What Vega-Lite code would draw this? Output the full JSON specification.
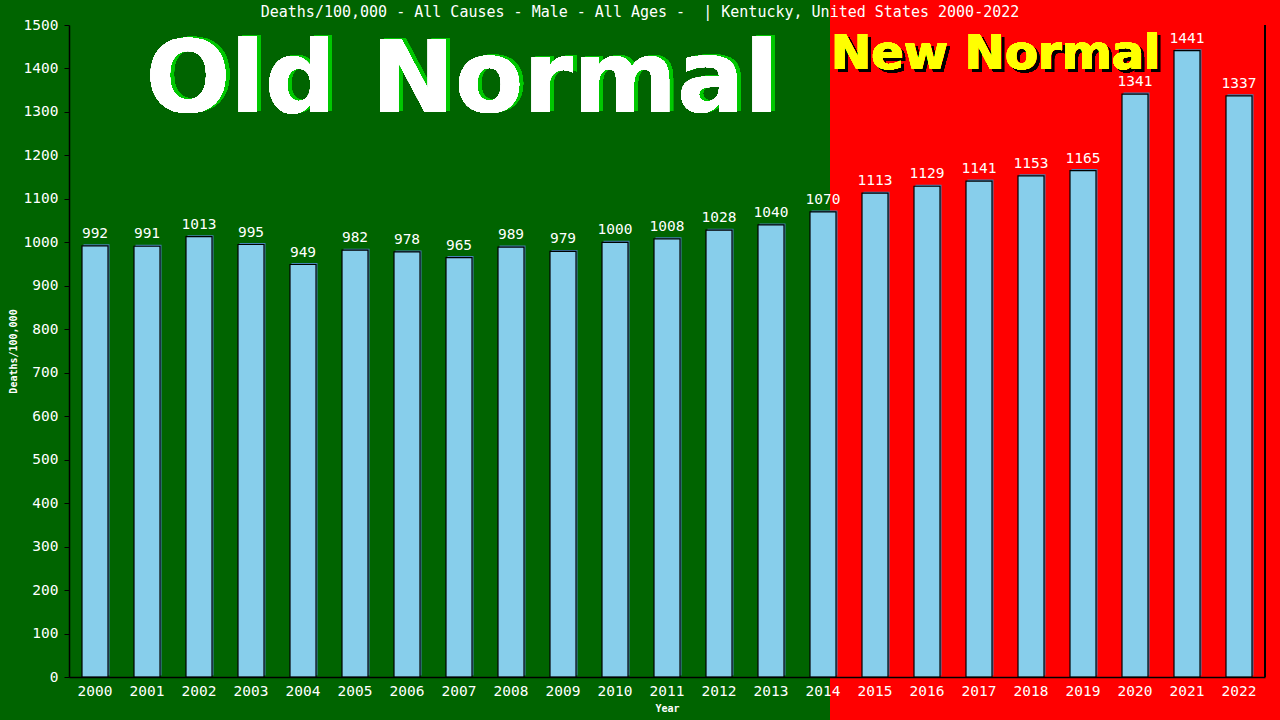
{
  "$schema": "https://vega.github.io/schema/vega-lite/v6.json",
  "width": 1196,
  "height": 652,
  "autosize": "none",
  "padding": {"left": 69, "top": 25, "right": 15, "bottom": 43},
  "background": "#006400",
  "config": {"view": {"stroke": null}},
  "title": {
    "text": "Deaths/100,000 - All Causes - Male - All Ages -\u00a0 | Kentucky, United States 2000-2022",
    "font": "DejaVu Sans Mono",
    "fontSize": 15,
    "fontWeight": "normal",
    "color": "white",
    "anchor": "middle",
    "baseline": "bottom",
    "dx": -27,
    "offset": -35
  },
  "data": {
    "values": [
      {"year": "2000", "rate": 992},
      {"year": "2001", "rate": 991},
      {"year": "2002", "rate": 1013},
      {"year": "2003", "rate": 995},
      {"year": "2004", "rate": 949},
      {"year": "2005", "rate": 982},
      {"year": "2006", "rate": 978},
      {"year": "2007", "rate": 965},
      {"year": "2008", "rate": 989},
      {"year": "2009", "rate": 979},
      {"year": "2010", "rate": 1000},
      {"year": "2011", "rate": 1008},
      {"year": "2012", "rate": 1028},
      {"year": "2013", "rate": 1040},
      {"year": "2014", "rate": 1070},
      {"year": "2015", "rate": 1113},
      {"year": "2016", "rate": 1129},
      {"year": "2017", "rate": 1141},
      {"year": "2018", "rate": 1153},
      {"year": "2019", "rate": 1165},
      {"year": "2020", "rate": 1341},
      {"year": "2021", "rate": 1441},
      {"year": "2022", "rate": 1337}
    ]
  },
  "encoding": {
    "x": {
      "field": "year",
      "type": "ordinal",
      "scale": {"paddingInner": 0.5, "paddingOuter": 0.25},
      "axis": {
        "title": "Year",
        "titleColor": "white",
        "titleFont": "DejaVu Sans Mono",
        "titleFontSize": 10,
        "titleFontWeight": "bold",
        "titlePadding": 6,
        "labelAngle": 0,
        "labelColor": "white",
        "labelFont": "DejaVu Sans Mono",
        "labelFontSize": 14.5,
        "labelPadding": 7,
        "ticks": false,
        "domainColor": "black",
        "domainWidth": 1.5,
        "grid": false
      }
    },
    "y": {
      "field": "rate",
      "type": "quantitative",
      "scale": {"domain": [0, 1500], "nice": false, "zero": true},
      "axis": {
        "title": "Deaths/100,000",
        "titleColor": "white",
        "titleFont": "DejaVu Sans Mono",
        "titleFontSize": 10,
        "titleFontWeight": "bold",
        "titlePadding": 5,
        "format": "d",
        "values": [0, 100, 200, 300, 400, 500, 600, 700, 800, 900, 1000, 1100, 1200, 1300, 1400, 1500],
        "labelColor": "white",
        "labelFont": "DejaVu Sans Mono",
        "labelFontSize": 14.5,
        "labelPadding": 6,
        "tickColor": "black",
        "tickSize": 5,
        "domainColor": "black",
        "domainWidth": 1.5,
        "grid": false
      }
    }
  },
  "layer": [
    {
      "mark": {"type": "rect", "color": "#ff0000", "clip": false},
      "encoding": {
        "x": {"datum": "2014", "type": "ordinal", "bandPosition": 0.77},
        "x2": {"datum": "2022", "bandPosition": 2.2},
        "y": {"datum": -120, "type": "quantitative"},
        "y2": {"datum": 1558}
      }
    },
    {
      "mark": {"type": "rule", "color": "black", "strokeWidth": 1.5},
      "encoding": {
        "x": {"datum": "2022", "type": "ordinal", "bandPosition": 1.5},
        "y": {"datum": 0, "type": "quantitative"},
        "y2": {"datum": 1500}
      }
    },
    {
      "mark": {"type": "text", "font": "DejaVu Sans", "fontWeight": "bold", "fontSize": 100, "color": "#00c800", "align": "center", "baseline": "alphabetic", "dx": 4, "dy": -1},
      "encoding": {
        "x": {"datum": "2007", "type": "ordinal", "bandPosition": 0.62},
        "y": {"datum": 1300, "type": "quantitative"},
        "text": {"value": "Old Normal"}
      }
    },
    {
      "mark": {"type": "text", "font": "DejaVu Sans", "fontWeight": "bold", "fontSize": 100, "color": "white", "align": "center", "baseline": "alphabetic"},
      "encoding": {
        "x": {"datum": "2007", "type": "ordinal", "bandPosition": 0.62},
        "y": {"datum": 1300, "type": "quantitative"},
        "text": {"value": "Old Normal"}
      }
    },
    {
      "mark": {"type": "text", "font": "DejaVu Sans", "fontWeight": "bold", "fontSize": 48, "color": "black", "align": "left", "baseline": "alphabetic", "dx": 3, "dy": 3},
      "encoding": {
        "x": {"datum": "2014", "type": "ordinal", "bandPosition": 0.81},
        "y": {"datum": 1399, "type": "quantitative"},
        "text": {"value": "New Normal"}
      }
    },
    {
      "mark": {"type": "text", "font": "DejaVu Sans", "fontWeight": "bold", "fontSize": 48, "color": "#ffff00", "align": "left", "baseline": "alphabetic"},
      "encoding": {
        "x": {"datum": "2014", "type": "ordinal", "bandPosition": 0.81},
        "y": {"datum": 1399, "type": "quantitative"},
        "text": {"value": "New Normal"}
      }
    },
    {
      "mark": {"type": "bar", "color": "#4682b4", "xOffset": 1.5, "yOffset": -1.5}
    },
    {
      "mark": {"type": "bar", "fill": "#87ceeb", "stroke": "black", "strokeWidth": 1.2}
    },
    {
      "mark": {"type": "text", "color": "white", "font": "DejaVu Sans Mono", "fontSize": 14.5, "baseline": "alphabetic", "dy": -8},
      "encoding": {"text": {"field": "rate", "type": "quantitative"}}
    }
  ]
}
